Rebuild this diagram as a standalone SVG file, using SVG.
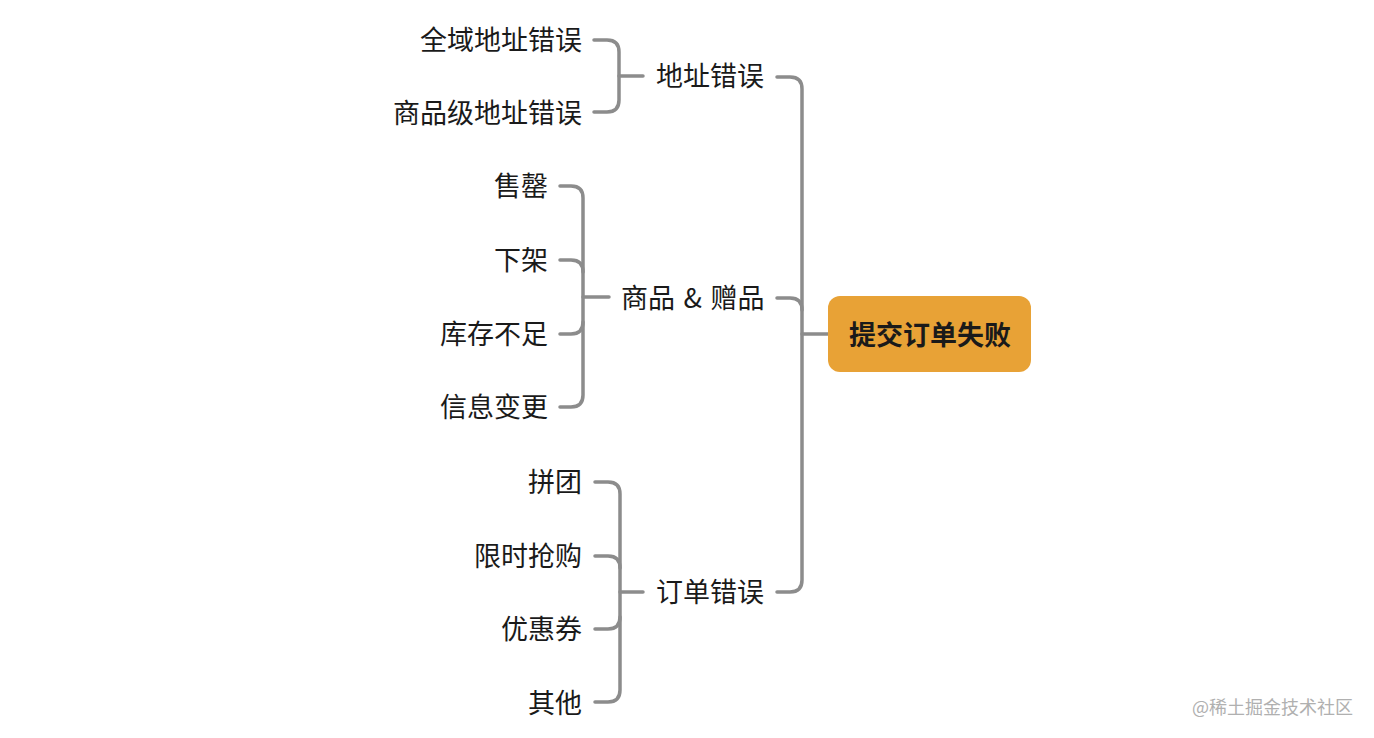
<svg xmlns="http://www.w3.org/2000/svg" width="1374" height="738" viewBox="0 0 1374 738">
<style>
.ln{fill:none;stroke:#8c8c8c;stroke-width:3.5;stroke-linecap:round;stroke-linejoin:round}
.t{font-family:"Noto Sans CJK SC","Noto Sans",sans-serif;font-size:27px;fill:#1a1a1a;dominant-baseline:central}
.e{text-anchor:end}
.r{font-family:"Noto Sans CJK SC","Noto Sans",sans-serif;font-size:27px;font-weight:bold;fill:#1a1a1a;text-anchor:middle;dominant-baseline:central}
.wm{font-family:"Noto Sans CJK SC","Noto Sans",sans-serif;font-size:18px;fill:#b0b0b0;dominant-baseline:central}
</style>
<rect width="1374" height="738" fill="#ffffff"/>
<g id="connectors">
<path class="ln" d="M777,77 H790 Q802,77 802,89 V580 Q802,592 790,592 H777"/>
<path class="ln" d="M777,298 H790 Q802,298 802,310"/>
<path class="ln" d="M802,334 H828"/>
<path class="ln" d="M594,40 H607 Q619,40 619,52 V100 Q619,112 607,112 H594"/>
<path class="ln" d="M619,76 H643"/>
<path class="ln" d="M560,186 H571 Q583,186 583,198 V395 Q583,407 571,407 H560"/>
<path class="ln" d="M560,260 H571 Q583,260 583,272"/>
<path class="ln" d="M560,334 H571 Q583,334 583,322"/>
<path class="ln" d="M583,297 H609"/>
<path class="ln" d="M595,482 H608 Q620,482 620,494 V690 Q620,702 608,702 H595"/>
<path class="ln" d="M595,556 H608 Q620,556 620,568"/>
<path class="ln" d="M595,629 H608 Q620,629 620,617"/>
<path class="ln" d="M620,592 H643"/>
</g>
<g id="root">
<rect x="828" y="296" width="203" height="76" rx="12" fill="#E8A236"/>
<text class="r" x="930" y="333">提交订单失败</text>
</g>
<g id="addr"><text class="t" x="656" y="74">地址错误</text></g>
<g id="goods"><text class="t" x="621" y="296" word-spacing="2.5">商品 &amp; 赠品</text></g>
<g id="order"><text class="t" x="656" y="590">订单错误</text></g>
<g id="addr1"><text class="t e" x="582" y="38">全域地址错误</text></g>
<g id="addr2"><text class="t e" x="582" y="111">商品级地址错误</text></g>
<g id="g1"><text class="t e" x="548" y="184">售罄</text></g>
<g id="g2"><text class="t e" x="548" y="258">下架</text></g>
<g id="g3"><text class="t e" x="548" y="332">库存不足</text></g>
<g id="g4"><text class="t e" x="548" y="405">信息变更</text></g>
<g id="o1"><text class="t e" x="582" y="480">拼团</text></g>
<g id="o2"><text class="t e" x="582" y="554">限时抢购</text></g>
<g id="o3"><text class="t e" x="582" y="627">优惠券</text></g>
<g id="o4"><text class="t e" x="582" y="701">其他</text></g>
<text class="wm" x="1192" y="706">@稀土掘金技术社区</text>
</svg>
